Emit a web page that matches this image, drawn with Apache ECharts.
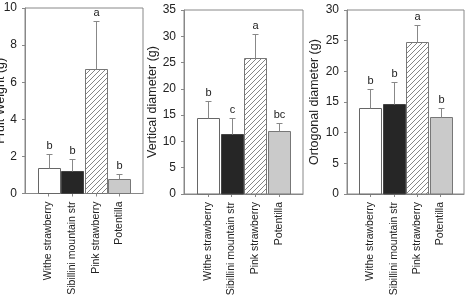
<!DOCTYPE html>
<html>
<head>
    <meta charset="utf-8">
    <title>Fruit traits</title>
    <script src="https://cdn.jsdelivr.net/npm/echarts@6/dist/echarts.min.js"></script>
    <style>
        html, body { margin: 0; padding: 0; background: #fff; }
    </style>
</head>
<body>
<div id="main" style="width: 468px;height:301px;"></div>
<script type="text/javascript">
    // categories and values (mean + upper error)
    const categories = ['Withe strawberry', 'Sibillini mountain str', 'Pink strawberry', 'Potentilla'];

    const weightMean = [1.36, 1.23, 6.73, 0.77];
    const weightErr = [0.75, 0.65, 2.59, 0.26];
    const weightLetters = ['b', 'b', 'a', 'b'];

    const verticalMean = [14.4, 11.5, 25.8, 12.05];
    const verticalErr = [3.35, 3.0, 4.6, 1.55];
    const verticalLetters = ['b', 'c', 'a', 'bc'];

    const ortoMean = [14.1, 14.67, 24.8, 12.5];
    const ortoErr = [2.97, 3.53, 2.75, 1.6];
    const ortoLetters = ['b', 'b', 'a', 'b'];

    const FONT = "'Liberation Sans', Arial, sans-serif";
    const BAR_W = 22;

    // hatch pattern for the pink strawberry bar
    function hatch() {
        let c = document.createElement('canvas');
        c.width = 5; c.height = 5;
        let ctx = c.getContext('2d');
        ctx.fillStyle = '#fff';
        ctx.fillRect(0, 0, 5, 5);
        ctx.strokeStyle = '#777';
        ctx.lineWidth = 0.9;
        ctx.beginPath();
        ctx.moveTo(-1, 6); ctx.lineTo(6, -1);
        ctx.moveTo(-1, 1); ctx.lineTo(1, -1);
        ctx.moveTo(4, 6); ctx.lineTo(6, 4);
        ctx.stroke();
        return c;
    }

    const barStyles = [
        { fill: '#ffffff', stroke: '#666' },
        { fill: '#262626', stroke: '#444' },
        { fill: { image: hatch(), repeat: 'repeat' }, stroke: '#777' },
        { fill: '#cacaca', stroke: '#777' }
    ];

    const grids = [
        { left: 25, top: 8, width: 118, bottom: 107.5 },
        { left: 184, top: 10, width: 119, bottom: 107 },
        { left: 347, top: 10, width: 117, bottom: 107 }
    ];

    const panels = [
        { name: 'Fruit Weight (g)', max: 10, interval: 2, gap: 18, mean: weightMean, err: weightErr, letters: weightLetters },
        { name: 'Vertical diameter (g)', max: 35, interval: 5, gap: 25, mean: verticalMean, err: verticalErr, letters: verticalLetters },
        { name: 'Ortogonal diameter (g)', max: 30, interval: 5, gap: 26, mean: ortoMean, err: ortoErr, letters: ortoLetters }
    ];

    let myChart = echarts.init(document.getElementById('main'));

    let option = {
        animation: false,
        grid: grids.map(function (g) {
            return Object.assign({
                show: true, borderColor: '#888', borderWidth: 1,
                containLabel: false, outerBoundsMode: 'none'
            }, g);
        }),
        xAxis: panels.map(function (p, i) {
            return {
                type: 'value', gridIndex: i, min: -1, max: 4,
                axisLine: { show: true, onZero: false, lineStyle: { color: '#888' } },
                axisTick: { show: true, length: 3, customValues: [0, 1, 2, 3], lineStyle: { color: '#888' } },
                axisLabel: {
                    customValues: [0, 1, 2, 3], rotate: 90, margin: 8,
                    fontSize: 10.5, fontFamily: FONT, color: '#222',
                    formatter: function (v) { return categories[v] || ''; }
                },
                splitLine: { show: false }
            };
        }),
        yAxis: panels.map(function (p, i) {
            return {
                type: 'value', gridIndex: i, min: 0, max: p.max, interval: p.interval,
                name: p.name, nameLocation: 'middle', nameGap: p.gap, nameMoveOverlap: false,
                nameTextStyle: { fontSize: 12.5, fontFamily: FONT, color: '#222' },
                axisLine: { show: true, onZero: false, lineStyle: { color: '#888' } },
                axisTick: { show: true, length: 3, lineStyle: { color: '#888' } },
                axisLabel: { margin: 8, fontSize: 12, fontFamily: FONT, color: '#222' },
                splitLine: { show: false }
            };
        }),
        series: []
    };

    panels.forEach(function (p, i) {
        // bars + upper error bars + letters, all through the axis scales
        option.series.push({
            type: 'custom', xAxisIndex: i, yAxisIndex: i,
            data: p.mean.map(function (v, k) { return [k, v, p.err[k]]; }),
            renderItem: function (params, api) {
                let k = params.dataIndex;
                let x = api.value(0), m = api.value(1), e = api.value(2);
                let base = api.coord([x, 0]);
                let top = api.coord([x, m]);
                let up = api.coord([x, m + e]);
                let cx = Math.round(base[0]) + 0.5;
                let left = Math.round(base[0] - BAR_W / 2) + 0.5;
                let ty = Math.round(top[1]) + 0.5;
                let cy = Math.round(up[1]) + 0.5;
                let st = { stroke: '#888', lineWidth: 1 };
                return {
                    type: 'group',
                    children: [
                        {
                            type: 'rect',
                            shape: { x: left, y: ty, width: BAR_W, height: base[1] - ty },
                            style: { fill: barStyles[k].fill, stroke: barStyles[k].stroke, lineWidth: 1 }
                        },
                        { type: 'line', shape: { x1: cx, y1: ty, x2: cx, y2: cy }, style: st },
                        { type: 'line', shape: { x1: cx - 3, y1: cy, x2: cx + 3, y2: cy }, style: st },
                        {
                            type: 'text', x: cx, y: cy - 3,
                            style: {
                                text: p.letters[k], textAlign: 'center', textVerticalAlign: 'bottom',
                                font: '11px ' + FONT, fill: '#222'
                            }
                        }
                    ]
                };
            }
        });
    });

    myChart.setOption(option);
</script>
</body>
</html>
